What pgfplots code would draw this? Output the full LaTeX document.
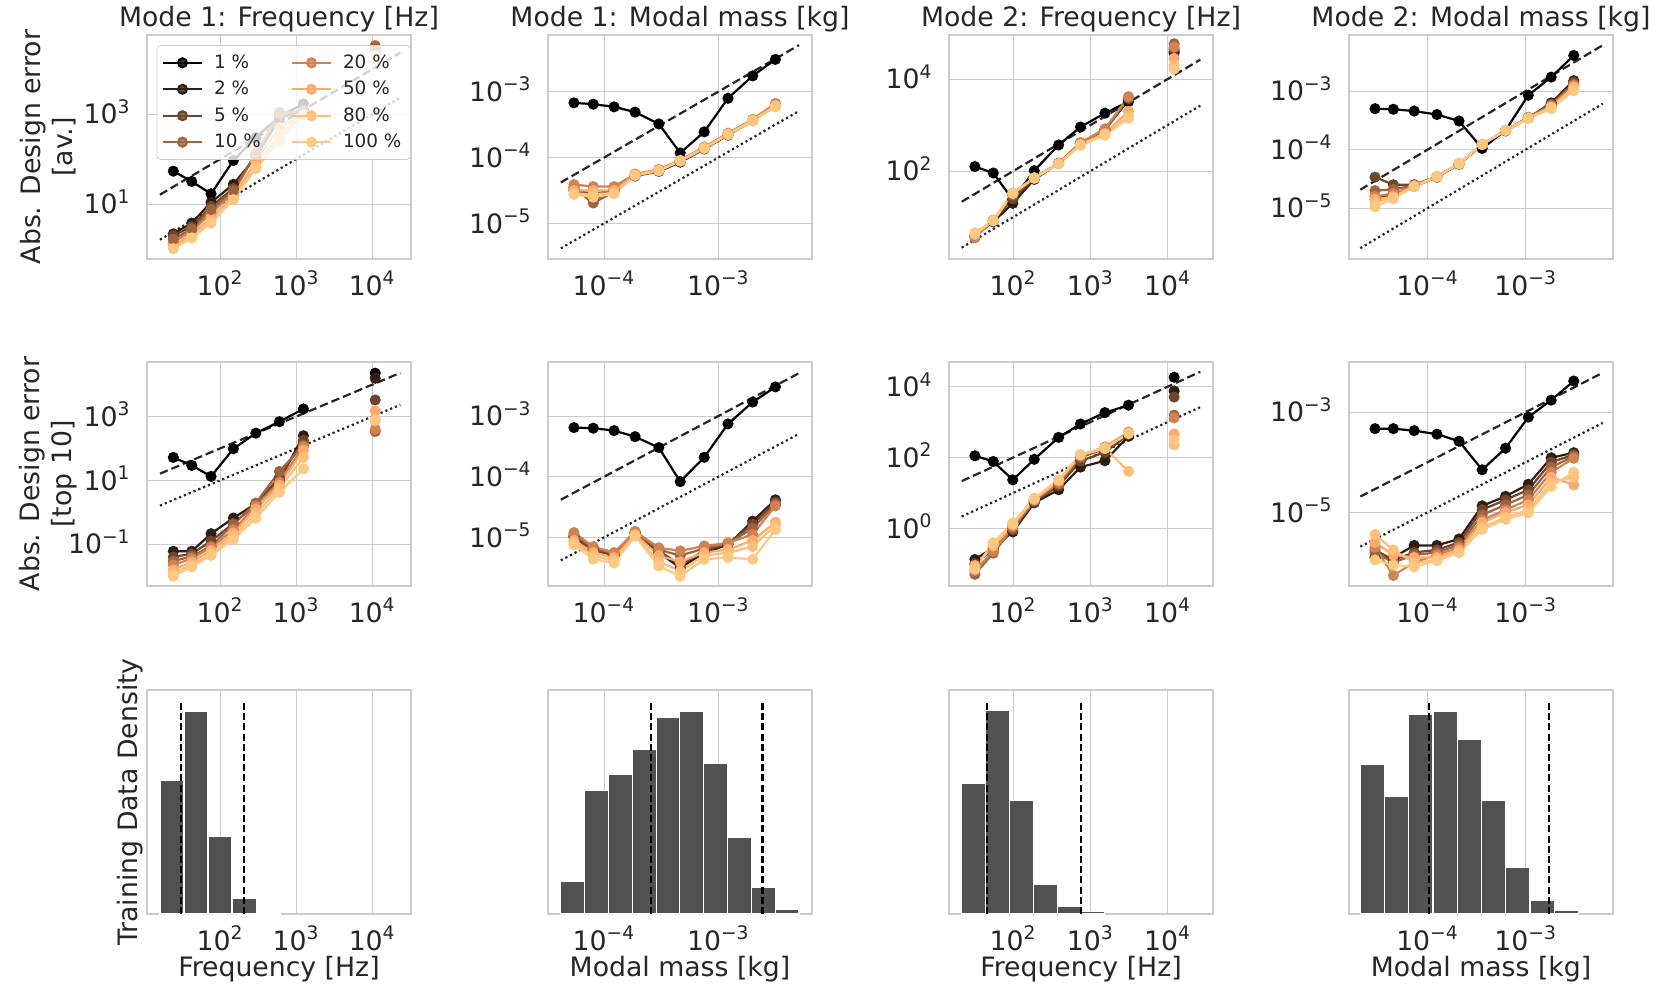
\documentclass[border=0pt]{standalone}
\usepackage{fontspec}
\setmainfont{DejaVu Sans}
\usepackage{pgfplots}
\usepackage{pgfplotstable}
\pgfplotsset{compat=1.18}

\definecolor{textc}{HTML}{262626}
\definecolor{gridc}{HTML}{CCCCCC}
\definecolor{histc}{HTML}{525252}
\definecolor{c1}{RGB}{0,0,0}
\definecolor{c2}{RGB}{48,30,19}
\definecolor{c3}{RGB}{111,70,44}
\definecolor{c4}{RGB}{159,100,63}
\definecolor{c5}{RGB}{207,130,83}
\definecolor{c6}{RGB}{255,169,108}
\definecolor{c7}{RGB}{255,190,121}
\definecolor{c8}{RGB}{255,199,127}

\newcommand\tp[1]{10\textsuperscript{#1}}
\newcommand\lblfont{\fontsize{13.35}{16}\selectfont}
\newcommand\legfont{\fontsize{9.2}{11}\selectfont}

% x = bin position, a..h = 1 %, 2 %, 5 %, 10 %, 20 %, 50 %, 80 %, 100 %
% Mode 1 frequency, av.
\pgfplotstableread{
x a b c d e f g h
24.32 54.08 2.188 1.995 1.660 1.413 1.202 1.072 1.023
42.46 31.92 3.802 3.162 2.818 2.512 2.138 1.905 1.778
76.21 16.98 10.96 8.913 7.586 6.310 5.012 4.169 3.802
149.6 93.33 27.54 22.39 19.95 17.78 15.14 13.18 12.59
295.1 302.0 112.2 125.9 131.8 138.0 89.13 70.79 61.66
602.6 891.3 794.3 1000 1096 891.3 501.2 354.8 263.0
1247 1698 1259 1202 1148 1122 1047 1000 955.0
3000 nan nan nan nan nan nan nan nan
10965 22910 25120 28180 31620 33880 28180 22390 19950
}\tA
% Mode 1 frequency, top 10
\pgfplotstableread{
x a b c d e f g h
24.32 52.48 0.06026 0.03981 0.02951 0.02239 0.01585 0.01259 0.01
42.46 29.51 0.06026 0.05012 0.04169 0.03548 0.02818 0.02239 0.01950
76.21 13.34 0.2138 0.1259 0.08710 0.07943 0.06310 0.05012 0.04467
149.6 97.72 0.6607 0.4467 0.4169 0.2818 0.2239 0.1778 0.1413
295.1 302.0 1.862 1.778 1.950 1.585 1.259 0.8913 0.6607
602.6 691.8 10.0 12.59 19.05 8.913 7.079 5.623 4.266
1247 1738 251.2 177.8 125.9 114.8 89.13 52.48 22.91
3000 nan nan nan nan nan nan nan nan
10965 22910 15850 3311 338.8 398.1 1514 741.3 794.3
}\tB
% Mode 1 modal mass, av.
\pgfplotstableread{
x a b c d e f g h
5.458e-5 6.761e-4 3.162e-5 3.548e-5 3.388e-5 3.890e-5 3.162e-5 2.818e-5 2.754e-5
8.054e-5 6.457e-4 2.818e-5 2.239e-5 2.042e-5 3.631e-5 3.162e-5 2.818e-5 2.512e-5
1.225e-4 5.888e-4 3.162e-5 3.311e-5 3.020e-5 3.631e-5 3.162e-5 2.884e-5 2.818e-5
1.871e-4 4.898e-4 5.248e-5 5.370e-5 5.495e-5 5.623e-5 5.495e-5 5.370e-5 5.370e-5
3.020e-4 3.236e-4 6.166e-5 6.310e-5 6.457e-5 6.607e-5 6.457e-5 6.310e-5 6.310e-5
4.645e-4 1.175e-4 8.511e-5 8.710e-5 8.913e-5 9.120e-5 8.913e-5 8.913e-5 8.913e-5
7.534e-4 2.455e-4 1.349e-4 1.380e-4 1.413e-4 1.445e-4 1.413e-4 1.380e-4 1.380e-4
1.216e-3 7.943e-4 2.188e-4 2.239e-4 2.291e-4 2.344e-4 2.291e-4 2.239e-4 2.239e-4
2.000e-3 1.738e-3 3.631e-4 3.715e-4 3.715e-4 3.802e-4 3.715e-4 3.631e-4 3.631e-4
3.162e-3 3.090e-3 6.026e-4 6.310e-4 6.457e-4 6.607e-4 6.166e-4 6.026e-4 5.888e-4
}\tC
% Mode 1 modal mass, top 10
\pgfplotstableread{
x a b c d e f g h
5.458e-5 6.457e-4 1.047e-5 1.000e-5 1.122e-5 1.202e-5 8.913e-6 8.318e-6 7.586e-6
8.054e-5 6.310e-4 6.310e-6 6.026e-6 6.607e-6 7.079e-6 5.623e-6 5.012e-6 4.365e-6
1.225e-4 5.754e-4 5.012e-6 5.248e-6 5.495e-6 5.623e-6 4.677e-6 4.169e-6 3.802e-6
1.871e-4 4.571e-4 1.175e-5 1.202e-5 1.230e-5 1.259e-5 1.122e-5 1.072e-5 1.047e-5
3.020e-4 3.020e-4 5.623e-6 6.026e-6 6.310e-6 6.761e-6 5.012e-6 3.981e-6 3.388e-6
4.645e-4 8.318e-5 3.162e-6 3.548e-6 5.012e-6 6.026e-6 3.981e-6 2.818e-6 2.291e-6
7.534e-4 2.089e-4 5.623e-6 6.026e-6 6.607e-6 7.244e-6 5.623e-6 5.012e-6 4.365e-6
1.216e-3 7.413e-4 7.586e-6 7.943e-6 7.943e-6 8.128e-6 6.310e-6 5.623e-6 4.677e-6
2.000e-3 1.698e-3 1.862e-5 1.660e-5 1.413e-5 1.122e-5 8.913e-6 7.079e-6 4.365e-6
3.162e-3 3.020e-3 4.169e-5 3.802e-5 3.548e-5 3.311e-5 1.778e-5 1.585e-5 1.349e-5
}\tD
% Mode 2 frequency, av.
\pgfplotstableread{
x a b c d e f g h
31.99 125.9 3.981 3.802 3.631 3.548 4.169 4.365 4.571
55.34 91.20 7.943 8.318 8.511 8.511 8.511 8.318 8.318
99.08 23.99 19.95 25.12 30.20 33.11 33.11 33.11 33.11
187.9 102.3 66.07 69.18 70.79 72.44 70.79 70.79 70.79
389.0 371.5 147.9 147.9 147.9 147.9 144.5 144.5 144.5
746.4 912.0 407.4 407.4 407.4 416.9 380.2 371.5 363.1
1549 1820 794.3 794.3 794.3 831.8 660.7 631.0 602.6
3126 3236 3548 3802 3981 4169 1995 1585 1413
6000 nan nan nan nan nan nan nan nan
12190 37150 39810 44670 58880 50120 28180 19950 16600
}\tE
% Mode 2 frequency, top 10
\pgfplotstableread{
x a b c d e f g h
31.99 112.2 0.1318 0.1 0.05012 0.06310 0.08913 0.07943 0.07079
55.34 77.62 0.2818 0.2512 0.1995 0.2239 0.3162 0.3548 0.3890
99.08 23.44 0.7943 0.8913 1.0 1.122 1.259 1.318 1.413
187.9 89.13 5.248 5.623 6.026 6.310 6.607 6.918 7.079
389.0 371.5 12.30 15.85 17.78 19.95 22.39 23.44 23.44
746.4 891.3 53.70 79.43 100.0 112.2 120.2 120.2 120.2
1549 1862 81.28 141.3 177.8 199.5 190.5 182.0 182.0
3126 3020 398.1 446.7 489.8 524.8 501.2 40.74 478.6
6000 nan nan nan nan nan nan nan nan
12190 18620 7586 5129 1585 1318 467.7 229.1 316.2
}\tF
% Mode 2 modal mass, av.
\pgfplotstableread{
x a b c d e f g h
2.917e-5 5.012e-4 1.413e-5 3.388e-5 1.995e-5 1.585e-5 1.413e-5 1.259e-5 1.047e-5
4.487e-5 4.898e-4 1.778e-5 2.512e-5 2.089e-5 1.778e-5 1.585e-5 1.514e-5 1.445e-5
7.311e-5 4.571e-4 2.344e-5 2.512e-5 2.455e-5 2.399e-5 2.399e-5 2.344e-5 2.344e-5
1.247e-4 3.981e-4 3.388e-5 3.467e-5 3.467e-5 3.467e-5 3.467e-5 3.467e-5 3.467e-5
2.094e-4 3.090e-4 5.623e-5 5.754e-5 5.754e-5 5.754e-5 5.754e-5 5.754e-5 5.754e-5
3.606e-4 1.047e-4 1.202e-4 1.230e-4 1.230e-4 1.230e-4 1.230e-4 1.230e-4 1.230e-4
6.237e-4 2.138e-4 2.089e-4 2.138e-4 2.138e-4 2.138e-4 2.138e-4 2.138e-4 2.138e-4
1.064e-3 8.511e-4 3.467e-4 3.548e-4 3.548e-4 3.548e-4 3.467e-4 3.467e-4 3.388e-4
1.820e-3 1.738e-3 6.310e-4 6.026e-4 5.754e-4 5.623e-4 5.370e-4 5.248e-4 5.012e-4
3.090e-3 4.074e-3 1.514e-3 1.413e-3 1.318e-3 1.259e-3 1.175e-3 1.096e-3 1.023e-3
}\tG
% Mode 2 modal mass, top 10
\pgfplotstableread{
x a b c d e f g h
2.917e-5 4.677e-4 1.259e-6 1.778e-6 1.585e-6 1.995e-6 2.512e-6 3.631e-6 1.122e-6
4.487e-5 4.677e-4 1.259e-6 1.122e-6 1.0e-6 5.495e-7 1.413e-6 1.778e-6 8.913e-7
7.311e-5 4.266e-4 2.188e-6 1.585e-6 1.413e-6 1.0e-6 1.259e-6 1.0e-6 8.128e-7
1.247e-4 3.631e-4 2.188e-6 1.778e-6 1.585e-6 1.413e-6 1.259e-6 1.096e-6 1.096e-6
2.094e-4 2.630e-4 2.951e-6 2.512e-6 2.239e-6 1.995e-6 1.778e-6 1.585e-6 1.585e-6
3.606e-4 7.079e-5 1.349e-5 1.122e-5 8.913e-6 7.079e-6 6.310e-6 5.012e-6 4.571e-6
6.237e-4 1.905e-4 2.089e-5 1.778e-5 1.413e-5 1.122e-5 1.0e-5 7.943e-6 7.244e-6
1.064e-3 7.943e-4 3.631e-5 2.818e-5 2.239e-5 1.778e-5 1.413e-5 1.122e-5 9.772e-6
1.820e-3 1.738e-3 1.230e-4 1.0e-4 7.943e-5 6.310e-5 5.012e-5 3.981e-5 3.311e-5
3.090e-3 4.169e-3 1.549e-4 1.413e-4 1.318e-4 1.202e-4 3.548e-5 5.012e-5 6.310e-5
}\tH

\pgfplotsset{
  every axis title/.style={at={(0.5,1.038)}, anchor=base, font=\lblfont, text=textc},
  mypanel/.style={
    scale only axis, width=132pt, height=112pt, anchor=north west,
    unbounded coords=jump,
    axis line style={draw=gridc, line width=0.6pt},
    xmajorgrids, ymajorgrids,
    major grid style={draw=gridc, line width=0.5pt},
    major tick length=0pt, minor tick length=0pt,
    tick label style={font=\lblfont, text=textc, inner sep=0pt},
    xticklabel style={anchor=base, yshift=-18pt},
    yticklabel style={anchor=base east, xshift=-8pt, yshift=-4.85pt},
    xlabel style={at={(axis description cs:0.5,-0.281)}, anchor=base, font=\lblfont, text=textc},
    ylabel style={at={(axis description cs:-0.375,0.5)}, anchor=center, font=\lblfont, text=textc, align=center},
  },
  myhist/.style={mypanel, ymin=0, ymax=223, ytick=\empty, ymajorgrids=false,
    ylabel style={at={(axis description cs:-0.064,0.5)}}},
}
\tikzset{
  ser1/.style={color=c1, line width=1.1pt, mark=*, mark size=2.2pt, mark options={solid}},
  ser2/.style={ser1, color=c2}, ser3/.style={ser1, color=c3}, ser4/.style={ser1, color=c4},
  ser5/.style={ser1, color=c5}, ser6/.style={ser1, color=c6}, ser7/.style={ser1, color=c7},
  ser8/.style={ser1, color=c8},
  refdash/.style={black!85, line width=1.1pt, dash pattern=on 4.2pt off 2pt},
  refdot/.style={black!85, line width=1.1pt, dash pattern=on 1.1pt off 1.5pt},
  histbar/.style={fill=histc, draw=white, line width=0.6pt},
  vline/.style={black, line width=1.1pt, dash pattern=on 3.5pt off 1.6pt},
}

\newcommand\plotseries[1]{%
  \addplot[ser1, forget plot] table[x=x, y=a] {#1};
  \addplot[ser2, forget plot] table[x=x, y=b] {#1};
  \addplot[ser3, forget plot] table[x=x, y=c] {#1};
  \addplot[ser4, forget plot] table[x=x, y=d] {#1};
  \addplot[ser5, forget plot] table[x=x, y=e] {#1};
  \addplot[ser6, forget plot] table[x=x, y=f] {#1};
  \addplot[ser7, forget plot] table[x=x, y=g] {#1};
  \addplot[ser8, forget plot] table[x=x, y=h] {#1};
}

\begin{document}
\begin{tikzpicture}
\path[use as bounding box] (0,0) rectangle (830pt,-496.5pt);

% ---------- row 1 ----------
\begin{axis}[mypanel, xmode=log, ymode=log, at={(73.5pt,-17.5pt)},
  xmin=10.96, xmax=32360, ymin=0.6026, ymax=57540,
  xtick={100,1000,10000}, xticklabels={\tp{2},\tp{3},\tp{4}},
  ytick={10,1000}, yticklabels={\tp{1},\tp{3}},
  title={Mode 1: Frequency [Hz]},
  ylabel={Abs. Design error\\{[av.]}},
  legend columns=2, legend cell align=left,
  legend image code/.code={\draw[mark repeat=2,mark phase=2] plot coordinates {(0pt,0pt) (9.75pt,0pt) (19.5pt,0pt)};},
  legend style={at={(0.036,0.955)}, anchor=north west, draw=gridc, fill=white,
    fill opacity=0.8, text opacity=1, draw opacity=1, rounded corners=2pt,
    font=\legfont, text=textc, inner sep=2.5pt, row sep=0.9pt,
    /tikz/every odd column/.append style={column sep=3.5pt},
    /tikz/every even column/.append style={column sep=13pt}},
]
\addplot[refdash, forget plot] coordinates {(16.22,16.22) (23442,23442)};
\addplot[refdot, forget plot] coordinates {(16.22,1.622) (23442,2344)};
% plotted in legend order (two columns, filled row by row)
\addplot[ser1] table[x=x, y=a] {\tA}; \addlegendentry{1 \%}
\addplot[ser5] table[x=x, y=e] {\tA}; \addlegendentry{20 \%}
\addplot[ser2] table[x=x, y=b] {\tA}; \addlegendentry{2 \%}
\addplot[ser6] table[x=x, y=f] {\tA}; \addlegendentry{50 \%}
\addplot[ser3] table[x=x, y=c] {\tA}; \addlegendentry{5 \%}
\addplot[ser7] table[x=x, y=g] {\tA}; \addlegendentry{80 \%}
\addplot[ser4] table[x=x, y=d] {\tA}; \addlegendentry{10 \%}
\addplot[ser8] table[x=x, y=h] {\tA}; \addlegendentry{100 \%}
\end{axis}

\begin{axis}[mypanel, xmode=log, ymode=log, at={(274pt,-17.5pt)},
  xmin=3.236e-5, xmax=6.607e-3, ymin=2.884e-6, ymax=7.244e-3,
  xtick={1e-4,1e-3}, xticklabels={\tp{−4},\tp{−3}},
  ytick={1e-5,1e-4,1e-3}, yticklabels={\tp{−5},\tp{−4},\tp{−3}},
  title={Mode 1: Modal mass [kg]}]
\addplot[refdash, forget plot] coordinates {(4.19e-5,4.19e-5) (5.09e-3,5.09e-3)};
\addplot[refdot, forget plot] coordinates {(4.19e-5,4.19e-6) (5.09e-3,5.09e-4)};
\plotseries{\tC}
\end{axis}

\begin{axis}[mypanel, xmode=log, ymode=log, at={(474.5pt,-17.5pt)},
  xmin=14.79, xmax=38900, ymin=1.23, ymax=91200,
  xtick={100,1000,10000}, xticklabels={\tp{2},\tp{3},\tp{4}},
  ytick={100,10000}, yticklabels={\tp{2},\tp{4}},
  title={Mode 2: Frequency [Hz]}]
\addplot[refdash, forget plot] coordinates {(21.6,21.6) (26610,26610)};
\addplot[refdot, forget plot] coordinates {(21.6,2.16) (26610,2661)};
\plotseries{\tE}
\end{axis}

\begin{axis}[mypanel, xmode=log, ymode=log, at={(674.5pt,-17.5pt)},
  xmin=1.585e-5, xmax=7.762e-3, ymin=1.349e-6, ymax=9.12e-3,
  xtick={1e-4,1e-3}, xticklabels={\tp{−4},\tp{−3}},
  ytick={1e-5,1e-4,1e-3}, yticklabels={\tp{−5},\tp{−4},\tp{−3}},
  title={Mode 2: Modal mass [kg]}]
\addplot[refdash, forget plot] coordinates {(2.065e-5,2.065e-5) (6.10e-3,6.10e-3)};
\addplot[refdot, forget plot] coordinates {(2.065e-5,2.065e-6) (6.10e-3,6.10e-4)};
\plotseries{\tG}
\end{axis}

% ---------- row 2 ----------
\begin{axis}[mypanel, xmode=log, ymode=log, at={(73.5pt,-181pt)},
  xmin=10.96, xmax=32360, ymin=4.898e-3, ymax=51290,
  xtick={100,1000,10000}, xticklabels={\tp{2},\tp{3},\tp{4}},
  ytick={0.1,10,1000}, yticklabels={\tp{−1},\tp{1},\tp{3}},
  ylabel={Abs. Design error\\{[top 10]}}]
\addplot[refdash, forget plot] coordinates {(16.22,16.22) (23442,23442)};
\addplot[refdot, forget plot] coordinates {(16.22,1.622) (23442,2344)};
\plotseries{\tB}
\end{axis}

\begin{axis}[mypanel, xmode=log, ymode=log, at={(274pt,-181pt)},
  xmin=3.236e-5, xmax=6.607e-3, ymin=1.585e-6, ymax=7.762e-3,
  xtick={1e-4,1e-3}, xticklabels={\tp{−4},\tp{−3}},
  ytick={1e-5,1e-4,1e-3}, yticklabels={\tp{−5},\tp{−4},\tp{−3}}]
\addplot[refdash, forget plot] coordinates {(4.19e-5,4.19e-5) (5.09e-3,5.09e-3)};
\addplot[refdot, forget plot] coordinates {(4.19e-5,4.19e-6) (5.09e-3,5.09e-4)};
\plotseries{\tD}
\end{axis}

\begin{axis}[mypanel, xmode=log, ymode=log, at={(474.5pt,-181pt)},
  xmin=14.79, xmax=38900, ymin=0.02344, ymax=50120,
  xtick={100,1000,10000}, xticklabels={\tp{2},\tp{3},\tp{4}},
  ytick={1,100,10000}, yticklabels={\tp{0},\tp{2},\tp{4}}]
\addplot[refdash, forget plot] coordinates {(21.6,21.6) (26610,26610)};
\addplot[refdot, forget plot] coordinates {(21.6,2.16) (26610,2661)};
\plotseries{\tF}
\end{axis}

\begin{axis}[mypanel, xmode=log, ymode=log, at={(674.5pt,-181pt)},
  xmin=1.585e-5, xmax=7.762e-3, ymin=3.388e-7, ymax=0.01,
  xtick={1e-4,1e-3}, xticklabels={\tp{−4},\tp{−3}},
  ytick={1e-5,1e-3}, yticklabels={\tp{−5},\tp{−3}}]
\addplot[refdash, forget plot] coordinates {(2.065e-5,2.065e-5) (6.10e-3,6.10e-3)};
\addplot[refdot, forget plot] coordinates {(2.065e-5,2.065e-6) (6.10e-3,6.10e-4)};
\plotseries{\tH}
\end{axis}

% ---------- row 3: training data histograms ----------
\begin{axis}[myhist, xmode=log, at={(73.5pt,-345pt)},
  xmin=10.96, xmax=32360,
  xtick={100,1000,10000}, xticklabels={\tp{2},\tp{3},\tp{4}},
  xlabel={Frequency [Hz]}, ylabel={Training Data Density}]
\addplot[ybar interval, histbar, forget plot] coordinates {(16.22,133) (33.57,202) (69.5,77) (143.9,16) (297.9,1.5) (616.6,0)};
\addplot[vline, forget plot] coordinates {(30.5,0) (30.5,212)};
\addplot[vline, forget plot] coordinates {(204,0) (204,212)};
\end{axis}

\begin{axis}[myhist, xmode=log, at={(274pt,-345pt)},
  xmin=3.236e-5, xmax=6.607e-3,
  xtick={1e-4,1e-3}, xticklabels={\tp{−4},\tp{−3}},
  xlabel={Modal mass [kg]}]
\addplot[ybar interval, histbar, forget plot] coordinates {(4.19e-5,32.3) (6.76e-5,122.7) (1.094e-4,139) (1.766e-4,164.3) (2.858e-4,195.3) (4.613e-4,202) (7.464e-4,150.3) (1.205e-3,76.7) (1.950e-3,26.7) (3.148e-3,4.7) (5.093e-3,0)};
\addplot[vline, forget plot] coordinates {(2.576e-4,0) (2.576e-4,212)};
\addplot[vline, forget plot] coordinates {(2.438e-3,0) (2.438e-3,212)};
\end{axis}

\begin{axis}[myhist, xmode=log, at={(474.5pt,-345pt)},
  xmin=14.79, xmax=38900,
  xtick={100,1000,10000}, xticklabels={\tp{2},\tp{3},\tp{4}},
  xlabel={Frequency [Hz]}]
\addplot[ybar interval, histbar, forget plot] coordinates {(21.63,130) (44.06,202.3) (89.74,113.3) (182.8,29) (372.4,7.3) (756.8,2.3) (1542,0)};
\addplot[vline, forget plot] coordinates {(46.2,0) (46.2,212)};
\addplot[vline, forget plot] coordinates {(764,0) (764,212)};
\end{axis}

\begin{axis}[myhist, xmode=log, at={(674.5pt,-345pt)},
  xmin=1.585e-5, xmax=7.762e-3,
  xtick={1e-4,1e-3}, xticklabels={\tp{−4},\tp{−3}},
  xlabel={Modal mass [kg]}]
\addplot[ybar interval, histbar, forget plot] coordinates {(2.065e-5,148.7) (3.648e-5,117) (6.442e-5,199) (1.138e-4,202) (2.009e-4,174.3) (3.548e-4,113.3) (6.266e-4,46.7) (1.107e-3,14) (1.954e-3,4) (3.451e-3,0)};
\addplot[vline, forget plot] coordinates {(1.033e-4,0) (1.033e-4,212)};
\addplot[vline, forget plot] coordinates {(1.734e-3,0) (1.734e-3,212)};
\end{axis}

\end{tikzpicture}
\end{document}
